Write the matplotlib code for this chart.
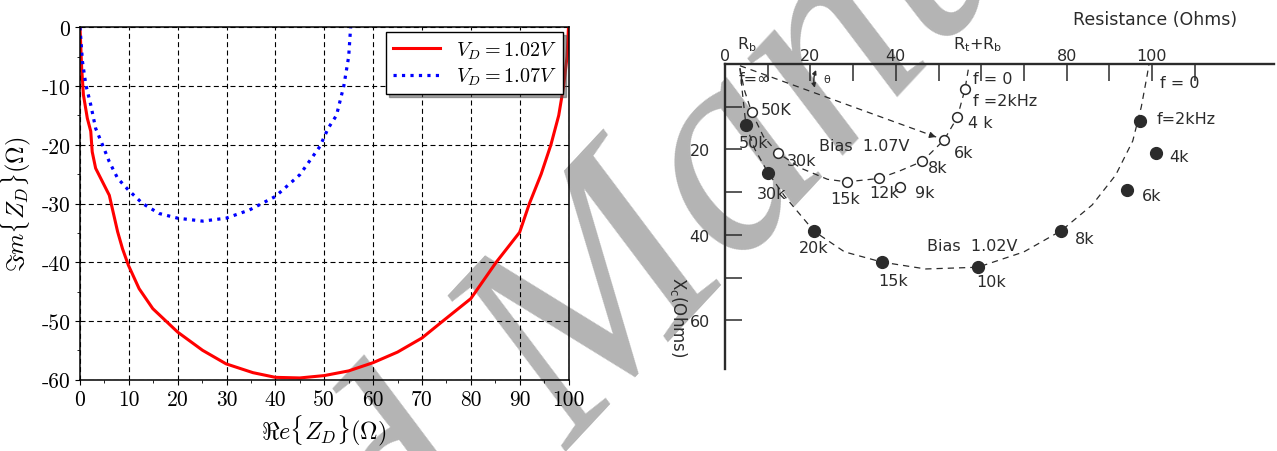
import matplotlib
matplotlib.use("Agg")
import matplotlib.pyplot as plt
from matplotlib.ticker import MultipleLocator

plt.rcParams["font.family"] = ["cmr10", "DejaVu Serif"]
plt.rcParams["mathtext.fontset"] = "cm"
plt.rcParams["axes.unicode_minus"] = False
plt.rcParams["axes.formatter.use_mathtext"] = False

# --- venstre figur: simulert impedans ---
re_102 = [0, 0.34, 0.7, 1.5, 2.2, 2.5, 3.2, 4.6, 6.0, 6.6, 7.7, 8.7, 9.9, 12.1, 14.9, 20,
          25.1, 29.9, 35.4, 40, 45, 50, 55, 60, 65, 70, 74.3, 80, 85.2, 90, 92, 94.4,
          96.4, 98, 99, 99.7, 100]
im_102 = [0, -6.9, -11.5, -15.5, -17.7, -21.2, -24, -26.3, -28.6, -30.8, -34.8, -37.7,
          -40.5, -44.5, -47.9, -51.9, -55, -57.3, -58.8, -59.6, -59.7, -59.3, -58.5, -57.1,
          -55.3, -52.9, -50, -46.2, -40, -34.9, -30, -25, -20, -15, -10, -5, 0]
re_107 = [0, 0.5, 1.2, 2.2, 3.2, 4.6, 6, 7.7, 9.9, 12.8, 16.2, 20, 25.1, 29.9, 34.7, 40,
          45, 49.1, 50.8, 52.5, 54.0, 55.0, 55.4]
im_107 = [0, -5.8, -9.8, -13.2, -17.2, -20, -22.9, -25.7, -27.7, -30, -31.7, -32.5, -33,
          -32.5, -31.1, -28.8, -25.1, -20.3, -17.2, -15, -10, -5, 0]

# --- hoyre figur: malte punkter (R, Xc) ---
f102_lab = ["50k", "30k", "20k", "15k", "10k", "8k", "6k", "4k", "f=2kHz"]
f102_R = [4.9, 10.1, 20.9, 36.8, 59.2, 78.8, 94.1, 101.0, 97.3]
f102_X = [14.3, 25.5, 39.2, 46.4, 47.6, 39.0, 29.6, 20.8, 13.3]
f107_lab = ["50K", "30k", "15k", "12k", "9k", "8k", "6k", "4 k", "f =2kHz"]
f107_R = [6.25, 12.3, 28.5, 36.1, 41.1, 46.2, 51.3, 54.4, 56.2]
f107_X = [11.3, 20.8, 27.6, 26.8, 28.7, 22.8, 17.8, 12.5, 5.9]

# stiplede kurver
c102_R = [3.5, 4.0, 4.9, 7.0, 10.1, 14.0, 20.9, 28.0, 36.8, 47.0, 59.2, 70.0, 78.8, 86.0,
          91.5, 95.5, 97.5, 98.8, 99.3]
c102_X = [1, 6, 14.3, 20, 25.5, 31, 39.2, 44, 46.4, 48, 47.6, 44, 39.0, 33, 26, 18, 10, 3, 0]
c107_R = [3.5, 4.5, 6.25, 9.0, 12.3, 18.0, 24.0, 28.5, 36.1, 41.0, 46.2, 51.3, 54.4, 56.2, 57.2]
c107_X = [1, 6, 11.3, 17, 20.8, 24.5, 27, 27.6, 26.8, 25, 22.8, 17.8, 12.5, 5.9, 0]

xt_lab = ["0", "", "20", "", "40", "", "", "", "80", "", "100", ""]
yt_lab = ["", "20", "", "40", "", "60"]

# tekstforskyvninger (layout)
off102 = [(-1.7, 4.0), (-2.6, 4.9), (-3.5, 3.7), (-0.8, 4.2), (-0.4, 3.4), (3.2, 1.8),
          (3.5, 1.2), (3.0, 0.8), (3.7, -0.5)]
off107 = [(2.2, -0.7), (2.1, 1.7), (-3.8, 4.0), (-2.3, 3.2), (3.5, 1.5), (1.4, 1.5),
          (2.3, 3.0), (2.6, 1.2), (1.8, 2.7)]

fig = plt.figure(figsize=(12.77, 4.52), dpi=100)

# vannmerke
wm = dict(fontsize=212, color="#b4b4b4", rotation=47, rotation_mode="anchor",
          va="baseline", family="Liberation Serif", style="italic", zorder=-1)
fig.text(0.446, 0.0, "Accepted ", ha="right", **wm)
fig.text(0.446, 0.0, "Manuscript", ha="left", **wm)

ax = fig.add_axes([80 / 1277, 71.3 / 452, 488.5 / 1277, 352.4 / 452])
ax.set_facecolor("none")
ax.plot(re_102, im_102, color="red", lw=2.2, label="$V_D = 1.02V$")
ax.plot(re_107, im_107, color="blue", lw=2.3, linestyle=":", label="$V_D = 1.07V$")
ax.set_xlim(0, 100)
ax.set_ylim(-60, 0)
ax.xaxis.set_major_locator(MultipleLocator(10))
ax.xaxis.set_minor_locator(MultipleLocator(5))
ax.yaxis.set_major_locator(MultipleLocator(10))
ax.yaxis.set_minor_locator(MultipleLocator(5))
ax.grid(True, color="black", linestyle=(0, (4.5, 3)), lw=0.8)
ax.tick_params(labelsize=15.5)
for s in ax.spines.values():
    s.set_linewidth(1.1)
ax.set_xlabel(r"$\Re e\{Z_D\}(\Omega)$", fontsize=17.5, labelpad=3)
ax.set_ylabel(r"$\Im m\{Z_D\}(\Omega)$", fontsize=17.5, labelpad=6)
leg = ax.legend(loc="upper right", fontsize=14.5, handlelength=2.3, labelspacing=0.25,
                borderaxespad=0.25, borderpad=0.35, fancybox=False, edgecolor="black",
                framealpha=1, shadow=True)
leg.get_frame().set_linewidth(1.0)

# hoyre: skannet figur
ink = "#2b2b2b"
sans = "DejaVu Sans"
ax2 = fig.add_axes([725 / 1277, 82 / 452, 549 / 1277, 305 / 452])
ax2.set_facecolor("none")
ax2.set_xlim(0, 549 / 4.27)
ax2.set_ylim(305 / 4.27, 0)
for k in ["right", "bottom"]:
    ax2.spines[k].set_visible(False)
for k in ["top", "left"]:
    ax2.spines[k].set_linewidth(1.7)
    ax2.spines[k].set_color(ink)
ax2.xaxis.tick_top()
ax2.set_xticks(range(0, 120, 10))
ax2.set_xticklabels(xt_lab, fontfamily=sans, fontsize=11.5, color=ink)
ax2.set_yticks(range(10, 70, 10))
ax2.set_yticklabels(yt_lab, fontfamily=sans, fontsize=11.5, color=ink)
ax2.tick_params(axis="x", direction="in", length=12, width=1.1, color=ink, pad=1)
ax2.tick_params(axis="y", direction="in", length=12, width=1.1, color=ink, pad=11)

dash = (0, (5, 4))
ax2.plot(c102_R, c102_X, color=ink, lw=0.9, linestyle=dash)
ax2.plot(c107_R, c107_X, color=ink, lw=0.9, linestyle=dash)
ax2.plot([c107_R[0], f107_R[6] - 1.3], [0.4, f107_X[6] - 0.5], color=ink, lw=0.9, linestyle=dash)
ax2.annotate("", xy=(f107_R[6] - 1.3, f107_X[6] - 0.5), xytext=(f107_R[6] - 4, f107_X[6] - 1.4),
             arrowprops=dict(arrowstyle="-|>", color=ink, lw=0.9, mutation_scale=9))
ax2.annotate("", xy=(21.6, 0.8), xytext=(21.2, 6.2),
             arrowprops=dict(arrowstyle="<|-|>", color=ink, lw=1.0, mutation_scale=6,
                             connectionstyle="arc3,rad=-0.2"))

ax2.plot(f102_R, f102_X, "o", color=ink, ms=8.5, mec=ink, linestyle="none")
ax2.plot(f107_R, f107_X, "o", color=ink, ms=7, mfc="white", mec=ink, mew=1.1, linestyle="none")

tk = dict(fontfamily=sans, fontsize=11.5, color=ink, va="center")
for lab, r, x, (dx, dy) in zip(f102_lab, f102_R, f102_X, off102):
    ax2.text(r + dx, x + dy, lab, ha="left", **tk)
for lab, r, x, (dx, dy) in zip(f107_lab, f107_R, f107_X, off107):
    ax2.text(r + dx, x + dy, lab, ha="left", **tk)

ax2.text(3.3, 3.5, "f=\u221e", ha="left", **tk)
ax2.text(58.0, 3.5, "f = 0", ha="left", **tk)
ax2.text(101.8, 4.3, "f = 0", ha="left", **tk)
ax2.text(23.8, 3.5, "\u03b8", ha="center", fontfamily=sans, fontsize=8, color=ink, va="center")
ax2.text(32.7, 19.0, "Bias  1.07V", ha="center", **tk)
ax2.text(58.0, 42.6, "Bias  1.02V", ha="center", **tk)
ax2.text(5.2, -2.6, r"R$_\mathrm{b}$", ha="center", va="bottom", fontfamily=sans, fontsize=11.5,
         color=ink, math_fontfamily="dejavusans")
ax2.text(59.2, -2.6, r"R$_\mathrm{t}$+R$_\mathrm{b}$", ha="center", va="bottom", fontfamily=sans,
         fontsize=11.5, color=ink, math_fontfamily="dejavusans")
ax2.text(100.7, -10.5, "Resistance (Ohms)", ha="center", va="center", fontfamily=sans,
         fontsize=12.5, color=ink)
ax2.text(-11.0, 59.0, r"X$_\mathrm{c}$(Ohms)", ha="center", va="center", rotation=-90,
         fontfamily=sans, fontsize=12, color=ink, math_fontfamily="dejavusans")

fig.savefig("out.png", dpi=100)
